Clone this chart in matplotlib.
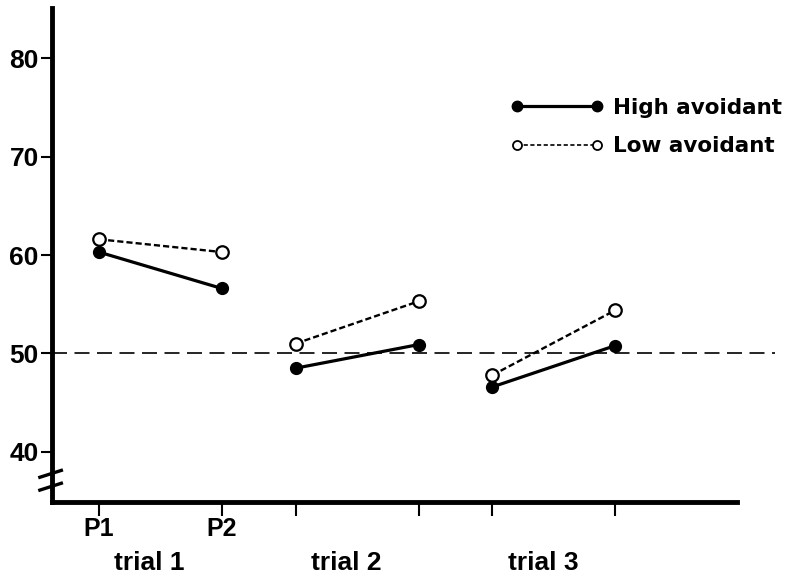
import numpy as np
import matplotlib.pyplot as plt
from matplotlib.lines import Line2D

# positions of the two measurements (P1, P2) inside each trial
x_pos = [[0.0, 1.0], [1.6, 2.6], [3.2, 4.2]]
trials = ["trial 1", "trial 2", "trial 3"]
point_labels = ["P1", "P2", "", "", "", ""]

high_avoidant = [[60.3, 56.6], [48.5, 50.9], [46.6, 50.8]]
low_avoidant = [[61.6, 60.3], [51.0, 55.3], [47.8, 54.4]]
chance_level = 50
y_ticks = [40, 50, 60, 70, 80]

label_font = ['Liberation Sans', 'DejaVu Sans']

fig = plt.figure(figsize=(7.91, 5.77), dpi=100)
ax = fig.add_axes([0.0657, 0.130, 0.8663, 0.856])

# chance line, runs a bit past the end of the x axis
ax.axhline(chance_level, xmin=0, xmax=1.055, color='black', lw=1.2,
           dashes=(9, 4.5), clip_on=False, zorder=1)

for xs, hi, lo in zip(x_pos, high_avoidant, low_avoidant):
    ax.plot(xs, lo, color='black', lw=1.7, dashes=(2.6, 1.3),
            marker='o', ms=9, mfc='white', mec='black', mew=1.6, zorder=3)
    ax.plot(xs, hi, color='black', lw=2.3, marker='o', ms=8.5,
            mfc='black', mec='black', zorder=4)

ax.set_xlim(-0.382, 5.19)
ax.set_ylim(34.9, 85.1)

for s in ['top', 'right']:
    ax.spines[s].set_visible(False)
ax.spines['left'].set_linewidth(3.5)
ax.spines['bottom'].set_linewidth(3.5)

ax.set_yticks(y_ticks)
ax.set_yticklabels([str(v) for v in y_ticks], family=label_font,
                   fontweight='bold', fontsize=19)
ax.tick_params(axis='y', direction='out', length=8, width=1.5, pad=1.5)

flat_x = [x for pair in x_pos for x in pair]
ax.set_xticks(flat_x)
ax.set_xticklabels(point_labels, family=label_font, fontweight='bold',
                   fontsize=18)
ax.tick_params(axis='x', direction='out', length=10, width=1.5, pad=0.5)

# trial names under each pair of ticks
for xs, name in zip(x_pos, trials):
    ax.text(np.mean(xs) - 0.09, -0.123, name, transform=ax.get_xaxis_transform(),
            ha='center', va='center', fontsize=19, fontweight='bold',
            family=label_font)

# axis break marks on the y axis
tr = ax.transAxes
for yb in [0.057, 0.031]:
    ax.plot([-0.02, 0.016], [yb - 0.008, yb + 0.008], color='black', lw=2.4,
            transform=tr, clip_on=False, solid_capstyle='butt')

handles = [
    Line2D([], [], color='black', lw=2.3, marker='o', ms=7.5, mfc='black'),
    Line2D([], [], color='black', lw=1.2, dashes=(2.5, 1.5), marker='o', ms=6.5,
           mfc='white', mec='black', mew=1.3),
]
fig.legend(handles, ['High avoidant', 'Low avoidant'], loc='center left',
           bbox_to_anchor=(0.632, 0.780), frameon=False, numpoints=2,
           handlelength=4.3, handletextpad=0.45, labelspacing=0.85,
           borderpad=0, prop={'family': 'DejaVu Sans', 'weight': 'bold',
                              'size': 15.5})

fig.savefig('out.png', dpi=100)
